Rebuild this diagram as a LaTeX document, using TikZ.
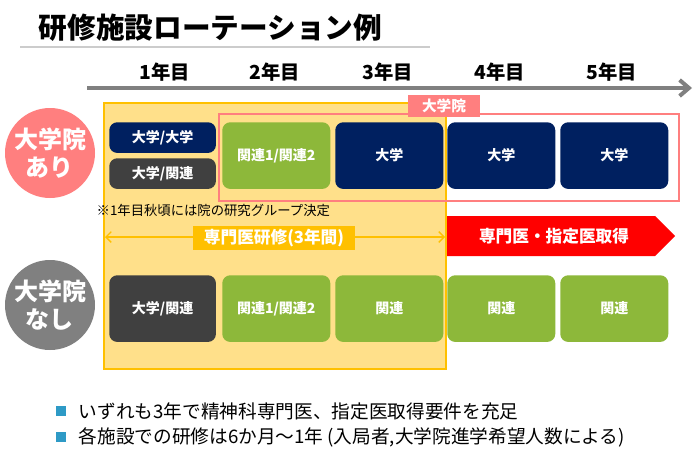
\documentclass[tikz,border=0pt]{standalone}
\usepackage{fontspec}
\setmainfont{Noto Sans CJK JP}
\usetikzlibrary{arrows.meta,shapes.arrows}
\definecolor{navy}{HTML}{002060}
\definecolor{dgray}{HTML}{404040}
\definecolor{grn}{HTML}{8DB83A}
\definecolor{pink}{HTML}{FF7F7F}
\definecolor{ylw}{HTML}{FFE08A}
\definecolor{gold}{HTML}{FFC000}
\definecolor{teal}{HTML}{2E9AC6}
\begin{document}
\begin{tikzpicture}[x=0.75pt,y=-0.75pt,
 blk/.style={rounded corners=6pt,text=white,font=\bfseries\fontsize{10.5}{12}\selectfont,inner sep=0pt},
 yr/.style={font=\bfseries\fontsize{14.5}{16}\selectfont},
 circ/.style={circle,minimum size=67.5pt,inner sep=0pt,text=white,align=center,font=\bfseries\fontsize{18}{21}\selectfont}]
\useasboundingbox (0,0) rectangle (696,457);
\fill[white] (0,0) rectangle (696,457);
\node[anchor=west,font=\bfseries\fontsize{21.5}{24}\selectfont] (title) at (34,28) {研修施設ローテーション例};
\draw[gray!40,line width=1.5pt] (20,47) -- (430,47);
\foreach \x/\n/\t in {165/y1/1年目,275/y2/2年目,388/y3/3年目,500/y4/4年目,612/y5/5年目}
  \node[yr] (\n) at (\x,72) {\t};
\coordinate (al) at (87,88); \coordinate (ar) at (692,88);
\draw[gray,line width=3pt,-{Straight Barb[length=7pt,width=12pt]}] (al) -- (ar);
\node[draw=gold,fill=ylw,line width=1.2pt,minimum width=256.5pt,minimum height=199.5pt,anchor=north west,inner sep=0pt] (ybox) at (103,102) {};
\node[draw=pink,line width=1.5pt,minimum width=345pt,minimum height=65pt,anchor=north west,inner sep=0pt] (pbox) at (218,113) {};
\node[fill=pink,text=white,font=\bfseries\fontsize{11}{12}\selectfont,minimum width=54pt,minimum height=16pt,inner sep=0pt] (plab) at (444,106) {大学院};
\node[blk,fill=navy,minimum width=80pt,minimum height=23pt,anchor=north west] (a1) at (109,122) {大学/大学};
\node[blk,fill=dgray,minimum width=80pt,minimum height=23pt,anchor=north west] (a2) at (109,158) {大学/関連};
\node[blk,fill=grn,minimum width=81pt,minimum height=50pt,anchor=north west] (a3) at (222,122) {関連1/関連2};
\node[blk,fill=navy,minimum width=81pt,minimum height=50pt,anchor=north west] (a4) at (335,122) {大学};
\node[blk,fill=navy,minimum width=81pt,minimum height=50pt,anchor=north west] (a5) at (447,122) {大学};
\node[blk,fill=navy,minimum width=81pt,minimum height=50pt,anchor=north west] (a6) at (560,122) {大学};
\node[circ,fill=pink] (c1) at (50,153) {大学院\\あり};
\node[circ,fill=gray] (c2) at (50,305) {大学院\\なし};
\node[anchor=west,font=\fontsize{10}{11}\selectfont] (note) at (92,210) {※1年目秋頃には院の研究グループ決定};
\coordinate (yl) at (105,237); \coordinate (yr2) at (445,237);
\draw[gold,line width=1pt,{Straight Barb[length=4pt,width=8pt]}-{Straight Barb[length=4pt,width=8pt]}] (yl) -- (yr2);
\node[fill=gold,text=white,font=\bfseries\fontsize{12.5}{13}\selectfont,minimum width=121pt,minimum height=18pt,inner sep=0pt] (ylab) at (274,238) {専門医研修(3年間)};
\fill[red] (447,216) -- (655,216) -- (675,236) -- (655,256) -- (447,256) -- cycle;
\node[text=white,font=\bfseries\fontsize{12.5}{13}\selectfont] (rlab) at (554,236) {専門医・指定医取得};
\node[blk,fill=dgray,minimum width=80pt,minimum height=50pt,anchor=north west] (b1) at (109,275) {大学/関連};
\node[blk,fill=grn,minimum width=81pt,minimum height=50pt,anchor=north west] (b2) at (222,275) {関連1/関連2};
\node[blk,fill=grn,minimum width=81pt,minimum height=50pt,anchor=north west] (b3) at (335,275) {関連};
\node[blk,fill=grn,minimum width=81pt,minimum height=50pt,anchor=north west] (b4) at (447,275) {関連};
\node[blk,fill=grn,minimum width=81pt,minimum height=50pt,anchor=north west] (b5) at (560,275) {関連};
\fill[teal] (56,406) rectangle (66,416);
\fill[teal] (56,432) rectangle (66,442);
\node[anchor=west,font=\fontsize{14}{16}\selectfont] (t1) at (74,411) {いずれも3年で精神科専門医、指定医取得要件を充足};
\node[anchor=west,font=\fontsize{14}{16}\selectfont] (t2) at (74,437) {各施設での研修は6か月〜1年 (入局者,大学院進学希望人数による)};
\end{tikzpicture}
\end{document}
